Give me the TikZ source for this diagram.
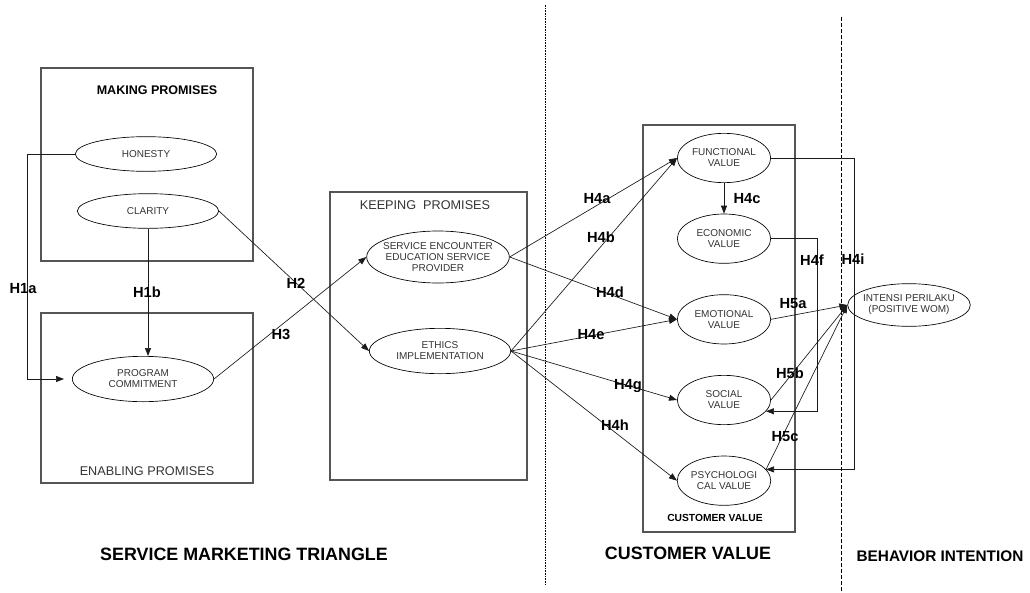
\documentclass[tikz,border=0pt]{standalone}
\usepackage{fontspec}
\setmainfont{Liberation Sans}
\usepackage{tikz}
\usetikzlibrary{shapes.geometric,arrows.meta,positioning,calc}
\definecolor{cvline}{HTML}{1A1A1A}
\definecolor{cvframe}{HTML}{555555}
\definecolor{cvtext}{HTML}{333333}
\tikzstyle{construct} = [ellipse, draw=black, line width=0.5pt, inner sep=0pt, align=center,
    text=cvtext, font=\fontsize{7.5}{8.2}\selectfont, minimum width=106pt, minimum height=26pt]
\tikzstyle{valuenode} = [construct, minimum width=70pt, minimum height=37pt]
\tikzstyle{frame} = [draw=cvframe, line width=0.8pt]
\tikzstyle{hyp} = [font=\fontsize{11}{11}\selectfont\bfseries, inner sep=0pt]
\tikzstyle{boxtitle} = [font=\fontsize{9.5}{10}\selectfont, text=cvtext, inner sep=0pt]
\tikzstyle{boldtitle} = [font=\fontsize{9.4}{10}\selectfont\bfseries, inner sep=0pt]
\tikzstyle{smalltitle} = [font=\fontsize{7.7}{8}\selectfont\bfseries, inner sep=0pt]
\tikzstyle{section} = [font=\fontsize{13.4}{14}\selectfont\bfseries, inner sep=0pt]
\tikzstyle{arrow} = [-{Triangle[length=6pt, width=4.5pt]}, line width=0.5pt, cvline]
\begin{document}
\begin{tikzpicture}[x=0.75pt, y=-0.75pt, node distance=23pt]
\useasboundingbox (0,0) rectangle (1030,592);

% frames
\draw[frame] (41,68) rectangle (253,261);
\draw[frame] (41,313) rectangle (253,483);
\draw[frame] (330,192) rectangle (527,480);
\draw[frame] (643,125) rectangle (795,532);

% separators
\draw[line width=0.5pt, dash pattern=on 1.2pt off 0.8pt] (545,5) -- (545,584);
\draw[line width=0.5pt, dash pattern=on 3pt off 1.5pt] (841,17) -- (841,592);

% titles
\node[boldtitle] (makingtitle) at (157,90) {MAKING PROMISES};
\node[boxtitle] (enablingtitle) at (147,471) {ENABLING PROMISES};
\node[boxtitle] (keepingtitle) at (425,205) {KEEPING\ \ PROMISES};
\node[smalltitle] (cvtitle) at (715,518) {CUSTOMER VALUE};
\node[section] (smt) at (244,554) {SERVICE MARKETING TRIANGLE};
\node[section] (cv) at (688,553) {CUSTOMER VALUE};
\node[section, font=\fontsize{11.5}{12}\selectfont\bfseries] (bi) at (940,556) {BEHAVIOR INTENTION};

% constructs
\node[construct] (honesty) at (146,154) {HONESTY};
\node[construct] (clarity) at (148,211) {CLARITY};
\node[construct, minimum height=34pt] (commit) at (143,379) {PROGRAM\\COMMITMENT};
\node[construct, minimum width=107pt, minimum height=39pt, inner xsep=-4pt] (encounter) at (438,257) {SERVICE ENCOUNTER\\EDUCATION SERVICE\\PROVIDER};
\node[construct, minimum height=34pt] (ethics) at (440,351) {ETHICS\\IMPLEMENTATION};

\node[valuenode] (functional) at (724,158) {FUNCTIONAL\\VALUE};
\node[valuenode, below=of functional] (economic) {ECONOMIC\\VALUE};
\node[valuenode, below=of economic] (emotional) {EMOTIONAL\\VALUE};
\node[valuenode, below=of emotional] (social) {SOCIAL\\VALUE};
\node[valuenode, below=of social] (psych) {PSYCHOLOGI\\CAL VALUE};

\node[construct, minimum width=92pt, minimum height=32pt, inner xsep=-2pt] (intensi) at (909,305) {INTENSI PERILAKU\\(POSITIVE WOM)};

% hypotheses
\draw[arrow] (honesty.west) -- ++(-48,0) |- ([xshift=-6pt]commit.west);
\draw[arrow] (clarity.south) -- (clarity.south |- commit.north);
\draw[arrow] (clarity.east) -- (ethics.west);
\draw[arrow] (commit.east) -- (encounter.west);
\draw[arrow] (encounter.east) -- (functional.west);
\draw[arrow] (ethics.east) -- (functional.west);
\draw[arrow] (functional) -- (economic);
\draw[arrow] (encounter.east) -- (emotional.west);
\draw[arrow] (ethics.east) -- (emotional.west);
\draw[arrow] (ethics.east) -- (social.west);
\draw[arrow] (ethics.east) -- (psych.west);
\draw[arrow] (economic.east) -- ++(46,0) |- (social.-15);
\draw[arrow] (functional.east) -- ++(83,0) |- (psych.15);
\draw[arrow] (emotional.east) -- (intensi.west);
\draw[arrow] (social.east) -- (intensi.west);
\draw[arrow] (psych.15) -- (intensi.west);

\node[hyp] (h1a) at (23,289) {H1a};
\node[hyp] (h1b) at (147,292) {H1b};
\node[hyp] (h2) at (296,283) {H2};
\node[hyp] (h3) at (281,334) {H3};
\node[hyp] (h4a) at (597,199) {H4a};
\node[hyp] (h4b) at (601,237) {H4b};
\node[hyp] (h4c) at (747,199) {H4c};
\node[hyp] (h4d) at (610,292) {H4d};
\node[hyp] (h4e) at (591,335) {H4e};
\node[hyp] (h4g) at (628,386) {H4g};
\node[hyp] (h4h) at (615,425) {H4h};
\node[hyp] (h4f) at (812,260) {H4f};
\node[hyp] (h4i) at (853,259) {H4i};
\node[hyp] (h5a) at (793,304) {H5a};
\node[hyp] (h5b) at (790,373) {H5b};
\node[hyp] (h5c) at (785,437) {H5c};

\end{tikzpicture}
\end{document}
